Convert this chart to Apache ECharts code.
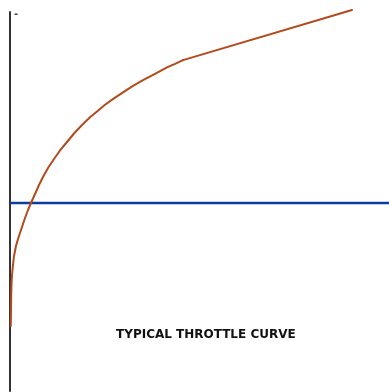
<!DOCTYPE html>
<html>
<head>
<meta charset="utf-8">
<script src="https://cdn.jsdelivr.net/npm/echarts@6/dist/echarts.min.js"></script>
<style>
  html, body { margin: 0; padding: 0; background: #fff; }
  #chart { width: 389px; height: 392px; }
</style>
</head>
<body>
<div id="chart"></div>
<script>
// Throttle position (x) vs. output (y), both in percent of axis range
const curveX = [0.21, 0.26, 0.32, 0.42, 0.53, 0.79, 1.06, 1.58, 2.11, 2.64, 3.17, 3.96, 4.75,
  5.54, 6.60, 7.65, 8.71, 10.03, 11.61, 13.19, 15.04, 16.89, 19.00, 21.11, 22.96, 25.07,
  27.44, 29.82, 32.45, 35.09, 38.26, 41.42, 43.54, 45.65];
const curveY = [17.15, 21.37, 25.33, 28.76, 30.61, 33.25, 35.62, 38.26, 40.11, 41.69, 43.27, 45.65, 47.76,
  49.60, 51.98, 54.35, 56.46, 58.84, 61.21, 63.46, 65.70, 67.94, 70.18, 72.22, 73.77, 75.54,
  77.20, 78.79, 80.53, 82.00, 83.69, 85.38, 86.31, 87.30];
// Straight upper section of the curve
const linearX = [45.65, 90.24];
const linearY = [87.30, 100.53];
// Horizontal reference level
const referenceLevel = 49.6;
const chartTitle = 'TYPICAL THROTTLE CURVE';
const topMark = '-';

const chart = echarts.init(document.getElementById('chart'), null, { renderer: 'canvas' });

const curveColor = '#b24a1c';

chart.setOption({
  animation: false,
  backgroundColor: '#ffffff',
  grid: { left: 10, right: 0, top: 12, bottom: 1, containLabel: false },
  xAxis: {
    type: 'value', min: 0, max: 100,
    axisLine: { show: false }, axisTick: { show: false },
    axisLabel: { show: false }, splitLine: { show: false }
  },
  yAxis: {
    type: 'value', min: 0, max: 100,
    axisLine: { show: true, lineStyle: { color: '#333333', width: 2 } },
    axisTick: { show: false }, axisLabel: { show: false }, splitLine: { show: false }
  },
  series: [
    {
      type: 'line',
      data: [[0, referenceLevel], [100, referenceLevel]],
      symbol: 'none',
      lineStyle: { color: '#0a3f9e', width: 2.5 },
      z: 2
    },
    {
      type: 'line',
      data: curveX.map((x, i) => [x, curveY[i]]),
      smooth: false,
      symbol: 'none',
      clip: false,
      lineStyle: { color: curveColor, width: 2, join: 'round', cap: 'round' },
      z: 3
    },
    {
      type: 'line',
      data: linearX.map((x, i) => [x, linearY[i]]),
      symbol: 'none',
      clip: false,
      lineStyle: { color: curveColor, width: 2, cap: 'round' },
      z: 3
    }
  ],
  graphic: [
    {
      type: 'text',
      left: 116, top: 329,
      style: {
        text: chartTitle,
        font: 'bold 12px "DejaVu Sans"',
        fill: '#111111'
      }
    },
    {
      type: 'text',
      left: 14, top: 9,
      style: {
        text: topMark,
        font: 'bold 10px "DejaVu Sans"',
        fill: '#444444'
      }
    }
  ]
});
</script>
</body>
</html>
